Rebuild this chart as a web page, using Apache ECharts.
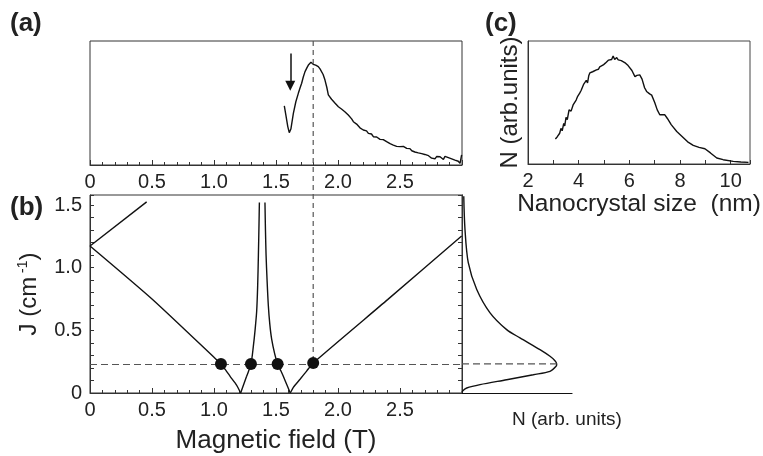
<!DOCTYPE html>
<html>
<head>
<meta charset="utf-8">
<script src="https://cdn.jsdelivr.net/npm/echarts@6/dist/echarts.min.js"></script>
<style>
  html, body { margin: 0; padding: 0; background: #fff; }
  #main { width: 763px; height: 456px; }
</style>
</head>
<body>
<div id="main"></div>
<script>
// (a) signal vs magnetic field (T), arb. units 0..1
var signalA = [[1.567,0.476],[1.58,0.40],[1.595,0.31],[1.607,0.261],[1.62,0.29],[1.64,0.417],[1.66,0.51],[1.68,0.578],[1.695,0.625],[1.707,0.659],[1.72,0.71],[1.734,0.753],[1.75,0.785],[1.761,0.806],[1.772,0.815],[1.782,0.828],[1.79,0.82],[1.80,0.812],[1.81,0.80],[1.82,0.805],[1.83,0.79],[1.841,0.793],[1.855,0.775],[1.868,0.766],[1.88,0.73],[1.895,0.685],[1.91,0.625],[1.922,0.565],[1.935,0.555],[1.948,0.53],[1.962,0.524],[1.975,0.50],[1.988,0.505],[2.003,0.47],[2.015,0.475],[2.028,0.452],[2.043,0.444],[2.055,0.43],[2.07,0.42],[2.083,0.403],[2.095,0.39],[2.11,0.372],[2.124,0.349],[2.137,0.355],[2.15,0.33],[2.164,0.323],[2.177,0.30],[2.19,0.298],[2.204,0.282],[2.218,0.27],[2.23,0.275],[2.245,0.255],[2.258,0.24],[2.27,0.25],[2.285,0.228],[2.3,0.222],[2.312,0.226],[2.325,0.21],[2.339,0.207],[2.352,0.198],[2.365,0.205],[2.378,0.19],[2.392,0.188],[2.405,0.18],[2.42,0.172],[2.433,0.176],[2.446,0.161],[2.46,0.165],[2.473,0.15],[2.487,0.158],[2.5,0.148],[2.513,0.14],[2.527,0.15],[2.54,0.135],[2.554,0.134],[2.567,0.12],[2.58,0.132],[2.595,0.115],[2.608,0.116],[2.62,0.105],[2.634,0.118],[2.648,0.098],[2.661,0.099],[2.675,0.092],[2.688,0.104],[2.70,0.085],[2.715,0.089],[2.73,0.075],[2.742,0.08],[2.755,0.055],[2.769,0.04],[2.782,0.05],[2.795,0.068],[2.81,0.06],[2.823,0.067],[2.836,0.058],[2.85,0.045],[2.863,0.07],[2.876,0.073],[2.89,0.06],[2.903,0.066],[2.917,0.05],[2.93,0.054],[2.943,0.04],[2.957,0.055],[2.97,0.03],[2.984,0.013],[2.997,0.081]];
var arrowA = [[1.615, 0.90], [1.615, 0.64]];

// (b) J (cm-1) vs magnetic field (T), one array per branch
var branch1 = [[0,1.173],[0.457,1.525]];
var branch2 = [[0,1.173],[0.5,0.75],[1.0,0.285],[1.056,0.232],[1.1,0.175],[1.13,0.133],[1.17,0.08],[1.195,0.04],[1.215,0]];
var branch3 = [[1.215,0],[1.24,0.07],[1.263,0.133],[1.298,0.232],[1.317,0.37],[1.331,0.5],[1.344,0.65],[1.352,0.85],[1.358,1.1],[1.363,1.35],[1.366,1.52]];
var branch4 = [[1.411,1.52],[1.415,1.3],[1.42,1.1],[1.428,0.9],[1.438,0.7],[1.45,0.55],[1.465,0.43],[1.49,0.31],[1.513,0.232],[1.54,0.175],[1.559,0.133],[1.59,0.06],[1.615,0]];
var branch5 = [[1.615,0],[1.64,0.045],[1.694,0.11],[1.747,0.175],[1.80,0.24],[2.4,0.745],[2.997,1.253]];
var crossings = [[1.056,0.232],[1.298,0.232],[1.513,0.232],[1.80,0.24]];
var jLevel = 0.232;
var fieldMark = 1.8;

// side panel: N (arb. units) vs J
var distN = [[0.016,1.57],[0.027,1.307],[0.057,1.04],[0.134,0.826],[0.255,0.64],[0.406,0.506],[0.527,0.44],[0.709,0.346],[0.8,0.293],[0.845,0.258],[0.861,0.232],[0.855,0.213],[0.8,0.173],[0.648,0.146],[0.406,0.106],[0.164,0.067],[0.043,0.04],[0.01,0.02],[0,0.005]];
var distPeak = 0.861;

// (c) size distribution, N (arb. units) vs nanocrystal size (nm)
var sizeC = [[3.08,0.203],[3.15,0.22],[3.25,0.25],[3.3,0.29],[3.35,0.27],[3.41,0.33],[3.45,0.31],[3.5,0.38],[3.55,0.36],[3.62,0.44],[3.65,0.45],[3.7,0.43],[3.78,0.48],[3.85,0.49],[3.9,0.52],[3.96,0.55],[4.04,0.576],[4.1,0.60],[4.15,0.59],[4.2,0.65],[4.24,0.64],[4.3,0.68],[4.35,0.66],[4.4,0.72],[4.44,0.74],[4.5,0.73],[4.55,0.75],[4.62,0.74],[4.7,0.765],[4.78,0.77],[4.83,0.79],[4.9,0.78],[4.97,0.805],[5.05,0.82],[5.1,0.81],[5.18,0.845],[5.23,0.86],[5.3,0.85],[5.36,0.878],[5.42,0.85],[5.5,0.865],[5.56,0.846],[5.62,0.86],[5.68,0.84],[5.75,0.85],[5.85,0.82],[5.95,0.80],[6.02,0.79],[6.1,0.76],[6.22,0.71],[6.3,0.72],[6.41,0.725],[6.5,0.69],[6.6,0.62],[6.68,0.59],[6.8,0.57],[6.88,0.56],[7.0,0.50],[7.1,0.44],[7.2,0.40],[7.3,0.40],[7.4,0.40],[7.5,0.37],[7.65,0.32],[7.87,0.264],[8.1,0.22],[8.3,0.18],[8.52,0.151],[8.75,0.135],[8.98,0.124],[9.2,0.09],[9.45,0.049],[9.7,0.035],[10.1,0.021],[10.4,0.016],[10.7,0.013]];

var fieldTicks = [0, 0.5, 1.0, 1.5, 2.0, 2.5];
var jTicks = [0, 0.5, 1.0, 1.5];
var sizeTicks = [2, 4, 6, 8, 10];
var jMax = 1.58;

var myChart = echarts.init(document.getElementById('main'));

var FONT = 'Liberation Sans, Arial, Helvetica, sans-serif';
var INK = '#111';
var DASH = '#555';

function has(list, v) {
    for (var i = 0; i < list.length; i++) {
        if (Math.abs(list[i] - v) < 1e-6) return true;
    }
    return false;
}
function fmt1(v) { return v === 0 ? '0' : v.toFixed(1); }

// overlay grid spans (a) top to (b) bottom, same J scale as (b)
var bTop = 195, bH = 198, aTop = 41;
var overlayMax = jMax * (bTop + bH - aTop) / bH;

function fieldAxis(gi, withName) {
    var ax = {
        type: 'value', gridIndex: gi, min: 0, max: 3, interval: 0.5,
        axisLine: { lineStyle: { color: '#333', width: 1 } },
        axisTick: { inside: true, length: 5, lineStyle: { color: '#333' } },
        minorTick: { show: true, splitNumber: 5, length: 3, lineStyle: { color: '#333' } },
        splitLine: { show: false },
        axisLabel: {
            fontSize: 20, fontFamily: FONT, color: '#222', margin: 7,
            formatter: function(v) { return has(fieldTicks, v) ? fmt1(v) : ''; }
        }
    };
    if (withName) {
        ax.name = 'Magnetic field (T)';
        ax.nameLocation = 'middle';
        ax.nameGap = 35;
        ax.nameTextStyle = { fontSize: 26, fontFamily: FONT, color: '#222' };
    }
    return ax;
}

var option = {
    backgroundColor: '#fff',
    animation: false,
    title: [
        { text: '(a)', left: 5, top: 6, textStyle: { fontSize: 26, fontWeight: 'bold', fontFamily: FONT, color: '#222' } },
        { text: '(b)', left: 5, top: 190, textStyle: { fontSize: 26, fontWeight: 'bold', fontFamily: FONT, color: '#222' } },
        { text: '(c)', left: 480, top: 6, textStyle: { fontSize: 26, fontWeight: 'bold', fontFamily: FONT, color: '#222' } },
        { text: 'N (arb. units)', left: 507, top: 405, textStyle: { fontSize: 19, fontWeight: 'normal', fontFamily: FONT, color: '#222' } }
    ],
    grid: [
        { left: 90, top: aTop, width: 372, height: 124, show: true, borderColor: '#333', borderWidth: 1 },
        { left: 90, top: bTop, width: 372, height: bH, show: true, borderColor: '#333', borderWidth: 1 },
        { left: 462, top: bTop, width: 110, height: bH },
        { left: 528, top: 41, width: 222, height: 123, show: true, borderColor: '#444', borderWidth: 1 },
        { left: 90, top: aTop, width: 372, height: bTop + bH - aTop }
    ],
    xAxis: [
        fieldAxis(0, false),
        fieldAxis(1, true),
        {
            type: 'value', gridIndex: 2, min: 0, max: 1,
            axisLine: { show: true, lineStyle: { color: INK, width: 1.2 } },
            axisTick: { show: false }, axisLabel: { show: false }, splitLine: { show: false }
        },
        {
            type: 'value', gridIndex: 3, min: 2, max: 10.76, interval: 1,
            axisLine: { lineStyle: { color: '#333' } },
            axisTick: { inside: true, length: 4, lineStyle: { color: '#333' } },
            splitLine: { show: false },
            axisLabel: {
                fontSize: 20, fontFamily: FONT, color: '#222', margin: 7,
                formatter: function(v) { return has(sizeTicks, v) ? String(Math.round(v)) : ''; }
            },
            name: 'Nanocrystal size  (nm)', nameLocation: 'middle', nameGap: 26,
            nameTextStyle: { fontSize: 24.5, fontFamily: FONT, color: '#222' }
        },
        { type: 'value', gridIndex: 4, min: 0, max: 3, show: false }
    ],
    yAxis: [
        { type: 'value', gridIndex: 0, min: 0, max: 1, show: false },
        {
            type: 'value', gridIndex: 1, min: 0, max: jMax, interval: 0.1,
            axisLine: { lineStyle: { color: '#333' } },
            axisTick: { inside: true, length: 4, lineStyle: { color: '#333' } },
            splitLine: { show: false },
            axisLabel: {
                fontSize: 20, fontFamily: FONT, color: '#222', margin: 8,
                formatter: function(v) { return has(jTicks, v) ? fmt1(v) : ''; }
            },
            name: 'J (cm{sup| -1})', nameLocation: 'middle', nameGap: 48,
            nameTextStyle: {
                fontSize: 24, fontFamily: FONT, color: '#222',
                rich: { sup: { fontSize: 14, fontFamily: FONT, color: '#222', verticalAlign: 'top', padding: [0, 0, 12, 0] } }
            }
        },
        {
            type: 'value', gridIndex: 1, position: 'right', min: 0, max: jMax, interval: 0.1,
            axisLine: { show: true, lineStyle: { color: '#333' } },
            axisTick: { inside: true, length: 4, lineStyle: { color: '#333' } },
            axisLabel: { show: false }, splitLine: { show: false }
        },
        {
            type: 'value', gridIndex: 2, min: 0, max: jMax,
            axisLine: { show: true, lineStyle: { color: '#333' } },
            axisTick: { show: false }, axisLabel: { show: false }, splitLine: { show: false }
        },
        {
            type: 'value', gridIndex: 3, min: 0, max: 1,
            axisLine: { show: true, lineStyle: { color: '#333' } },
            axisTick: { show: false }, axisLabel: { show: false }, splitLine: { show: false },
            name: 'N (arb.units)', nameLocation: 'middle', nameGap: 6,
            nameTextStyle: { fontSize: 24, fontFamily: FONT, color: '#222' }
        },
        { type: 'value', gridIndex: 4, min: 0, max: overlayMax, show: false }
    ],
    series: []
};

function curve(data, xi, yi, smooth) {
    return {
        type: 'line', xAxisIndex: xi, yAxisIndex: yi, data: data,
        showSymbol: false, smooth: smooth || false, silent: true,
        lineStyle: { color: INK, width: 1.4 }
    };
}

var sA = curve(signalA, 0, 0, false);
sA.markLine = {
    silent: true, symbol: ['none', 'triangle'], symbolSize: 10, symbolRotate: 180,
    label: { show: false },
    lineStyle: { color: INK, width: 1.5, type: 'solid' },
    emphasis: { disabled: true },
    data: [[{ coord: arrowA[0] }, { coord: arrowA[1] }]]
};
option.series.push(sA);

option.series.push(curve(branch1, 1, 1));
option.series.push(curve(branch2, 1, 1, 0.2));
option.series.push(curve(branch3, 1, 1, 0.3));
option.series.push(curve(branch4, 1, 1, 0.3));
option.series.push(curve(branch5, 1, 1, 0.2));

option.series.push({
    type: 'scatter', xAxisIndex: 1, yAxisIndex: 1, data: crossings, z: 5,
    symbolSize: 12, itemStyle: { color: INK, opacity: 1 }, silent: true,
    markLine: {
        silent: true, symbol: ['none', 'none'], label: { show: false },
        lineStyle: { color: DASH, width: 1.2, type: [7, 4] },
        data: [[{ coord: [0, jLevel] }, { coord: [3, jLevel] }]]
    }
});

option.series.push(curve(distN, 2, 3, 0.3));
option.series.push({
    type: 'line', xAxisIndex: 2, yAxisIndex: 3, showSymbol: false, silent: true,
    data: [[0, jLevel], [distPeak, jLevel]],
    lineStyle: { color: DASH, width: 1.2, type: [7, 4] }
});

option.series.push(curve(sizeC, 3, 4, false));

option.series.push({
    type: 'line', xAxisIndex: 4, yAxisIndex: 5, showSymbol: false, silent: true,
    data: [[fieldMark, overlayMax], [fieldMark, crossings[3][1]]],
    lineStyle: { color: DASH, width: 1.2, type: [5, 4] }
});

myChart.setOption(option);
</script>
</body>
</html>
